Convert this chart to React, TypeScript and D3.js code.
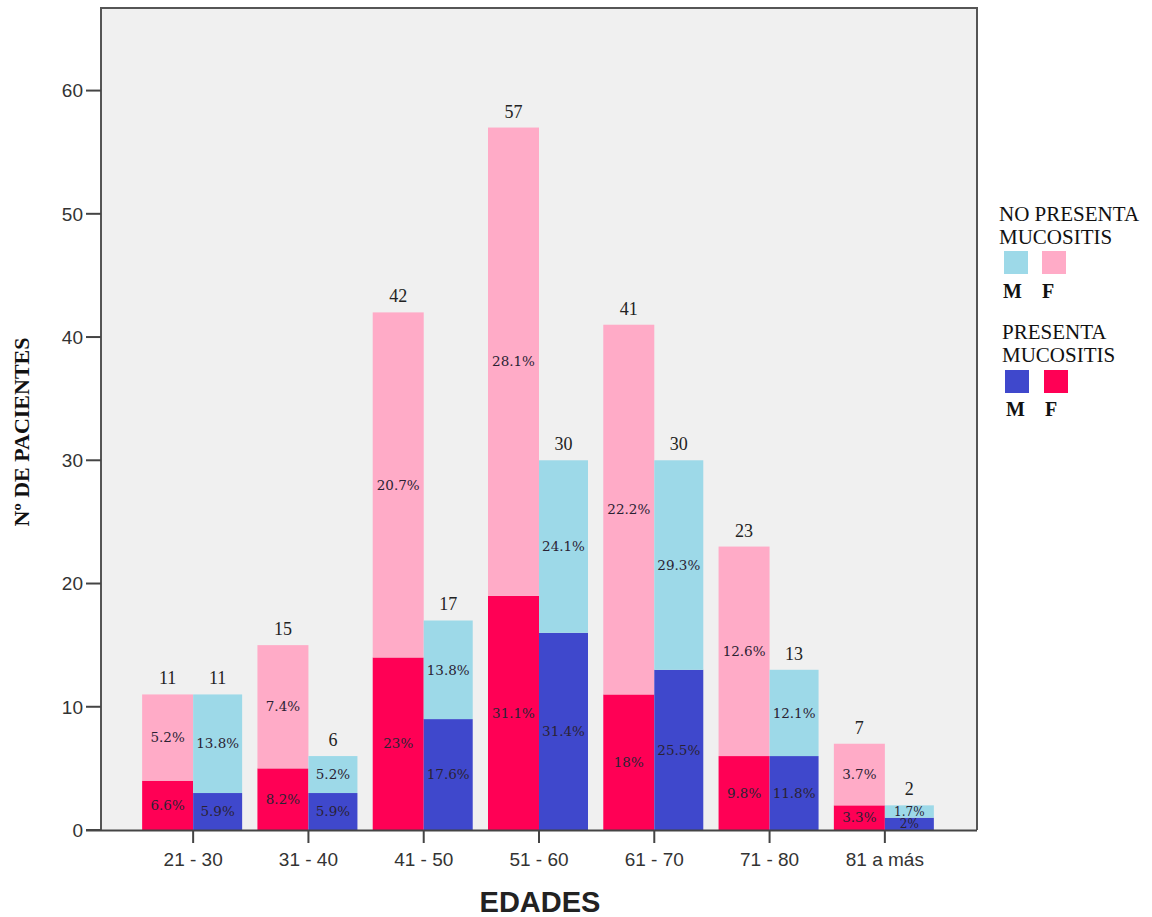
import React from "react";
import * as d3 from "d3";

const ageGroups = ["21 - 30", "31 - 40", "41 - 50", "51 - 60", "61 - 70", "71 - 80", "81 a más"];

// Patients per age group, split by sex and mucositis status
const femaleWith = [4, 5, 14, 19, 11, 6, 2];
const femaleWithout = [7, 10, 28, 38, 30, 17, 5];
const maleWith = [3, 3, 9, 16, 13, 6, 1];
const maleWithout = [8, 3, 8, 14, 17, 7, 1];

// Percentage labels printed inside each segment
const femaleWithPct = ["6.6%", "8.2%", "23%", "31.1%", "18%", "9.8%", "3.3%"];
const femaleWithoutPct = ["5.2%", "7.4%", "20.7%", "28.1%", "22.2%", "12.6%", "3.7%"];
const maleWithPct = ["5.9%", "5.9%", "17.6%", "31.4%", "25.5%", "11.8%", "2%"];
const maleWithoutPct = ["13.8%", "5.2%", "13.8%", "24.1%", "29.3%", "12.1%", "1.7%"];

const yTicks = [0, 10, 20, 30, 40, 50, 60];

const COLORS = {
  femaleWithout: "#FFABC7",
  femaleWith: "#FF0055",
  maleWithout: "#9DD9E8",
  maleWith: "#3F48CC",
};

const W = 1152;
const H = 917;
const frame = { left: 101, right: 977, top: 8, bottom: 830 };

export default function App() {
  const y = d3.scaleLinear().domain([0, 66.7]).range([frame.bottom, frame.top]);
  const x = d3.scaleBand<string>().domain(ageGroups).range([135.5, 942.5]).paddingInner(0).paddingOuter(0);
  const bw = 50;

  const sans = "'Liberation Sans', Arial, sans-serif";
  const serif = "'DejaVu Serif', Georgia, serif";
  const lserif = "'Liberation Serif', 'Times New Roman', serif";

  const bars: React.ReactNode[] = [];
  ageGroups.forEach((g, i) => {
    const cx = (x(g) as number) + x.bandwidth() / 2;
    const stacks = [
      {
        key: "F",
        x0: cx - bw - 1,
        w: bw + 1,
        segs: [
          { v0: 0, v1: femaleWith[i], c: COLORS.femaleWith, t: femaleWithPct[i] },
          { v0: femaleWith[i], v1: femaleWith[i] + femaleWithout[i], c: COLORS.femaleWithout, t: femaleWithoutPct[i] },
        ],
      },
      {
        key: "M",
        x0: cx,
        w: bw - 1,
        segs: [
          { v0: 0, v1: maleWith[i], c: COLORS.maleWith, t: maleWithPct[i] },
          { v0: maleWith[i], v1: maleWith[i] + maleWithout[i], c: COLORS.maleWithout, t: maleWithoutPct[i] },
        ],
      },
    ];
    stacks.forEach((s) => {
      const total = s.segs[1].v1;
      s.segs.forEach((seg, j) => {
        const hpx = y(seg.v0) - y(seg.v1);
        bars.push(
          <rect
            key={`${g}-${s.key}-${j}`}
            x={s.x0}
            y={y(seg.v1)}
            width={s.w}
            height={hpx}
            fill={seg.c}
          />
        );
        bars.push(
          <text
            key={`${g}-${s.key}-${j}-t`}
            x={s.x0 + s.w / 2}
            y={(y(seg.v0) + y(seg.v1)) / 2}
            dy="0.35em"
            textAnchor="middle"
            fontFamily={serif}
            fontSize={hpx < 15 ? 12 : 13.5}
            fill="#2a2233"
          >
            {seg.t}
          </text>
        );
      });
      bars.push(
        <text
          key={`${g}-${s.key}-total`}
          x={s.x0 + s.w / 2}
          y={y(total) - 10}
          textAnchor="middle"
          fontFamily={lserif}
          fontSize={18}
          fill="#222"
        >
          {total}
        </text>
      );
    });
  });

  return (
    <svg width={W} height={H} style={{ display: "block", position: "absolute", left: 0, top: 0 }}>
      <rect x={0} y={0} width={W} height={H} fill="#fff" />
      <rect
        x={frame.left}
        y={frame.top}
        width={frame.right - frame.left}
        height={frame.bottom - frame.top}
        fill="#F0F0F0"
      />
      {bars}
      {/* frame */}
      <path
        d={`M${frame.left},${frame.bottom} V${frame.top} H${frame.right} V${frame.bottom}`}
        fill="none"
        stroke="#555"
        strokeWidth={2}
      />
      <line x1={86} x2={frame.right} y1={frame.bottom + 0.5} y2={frame.bottom + 0.5} stroke="#444" strokeWidth={2} />
      {/* y axis */}
      {yTicks.map((t) => (
        <g key={t}>
          <line x1={86} x2={frame.left} y1={y(t)} y2={y(t)} stroke="#444" strokeWidth={2} />
          <text x={83} y={y(t)} dy="0.36em" textAnchor="end" fontFamily={sans} fontSize={19} fill="#333">
            {t}
          </text>
        </g>
      ))}
      {/* x axis */}
      {ageGroups.map((g) => {
        const cx = (x(g) as number) + x.bandwidth() / 2;
        return (
          <g key={g}>
            <line x1={cx} x2={cx} y1={frame.bottom} y2={frame.bottom + 13} stroke="#444" strokeWidth={2} />
            <text x={cx} y={866} textAnchor="middle" fontFamily={sans} fontSize={19} fill="#333">
              {g}
            </text>
          </g>
        );
      })}
      <text x={540} y={912} textAnchor="middle" fontFamily={sans} fontSize={29} fontWeight="bold" fill="#222">
        EDADES
      </text>
      <text
        transform="translate(29,432) rotate(-90)"
        textAnchor="middle"
        fontFamily={lserif}
        fontSize={22}
        fontWeight="bold"
        fill="#111"
      >
        Nº DE PACIENTES
      </text>
      {/* legend */}
      <g fontFamily={lserif} fill="#111">
        <text x={999} y={221} fontSize={21}>NO PRESENTA</text>
        <text x={999} y={244} fontSize={21}>MUCOSITIS</text>
        <rect x={1004} y={251} width={24} height={23} fill={COLORS.maleWithout} />
        <rect x={1042} y={251} width={24} height={23} fill={COLORS.femaleWithout} />
        <text x={1003} y={298} fontSize={20} fontWeight="bold">M</text>
        <text x={1042} y={298} fontSize={20} fontWeight="bold">F</text>
        <text x={1002} y={339} fontSize={21}>PRESENTA</text>
        <text x={1002} y={362} fontSize={21}>MUCOSITIS</text>
        <rect x={1005} y={370} width={24} height={23} fill={COLORS.maleWith} />
        <rect x={1044} y={370} width={24} height={23} fill={COLORS.femaleWith} />
        <text x={1006} y={416} fontSize={20} fontWeight="bold">M</text>
        <text x={1045} y={416} fontSize={20} fontWeight="bold">F</text>
      </g>
    </svg>
  );
}
